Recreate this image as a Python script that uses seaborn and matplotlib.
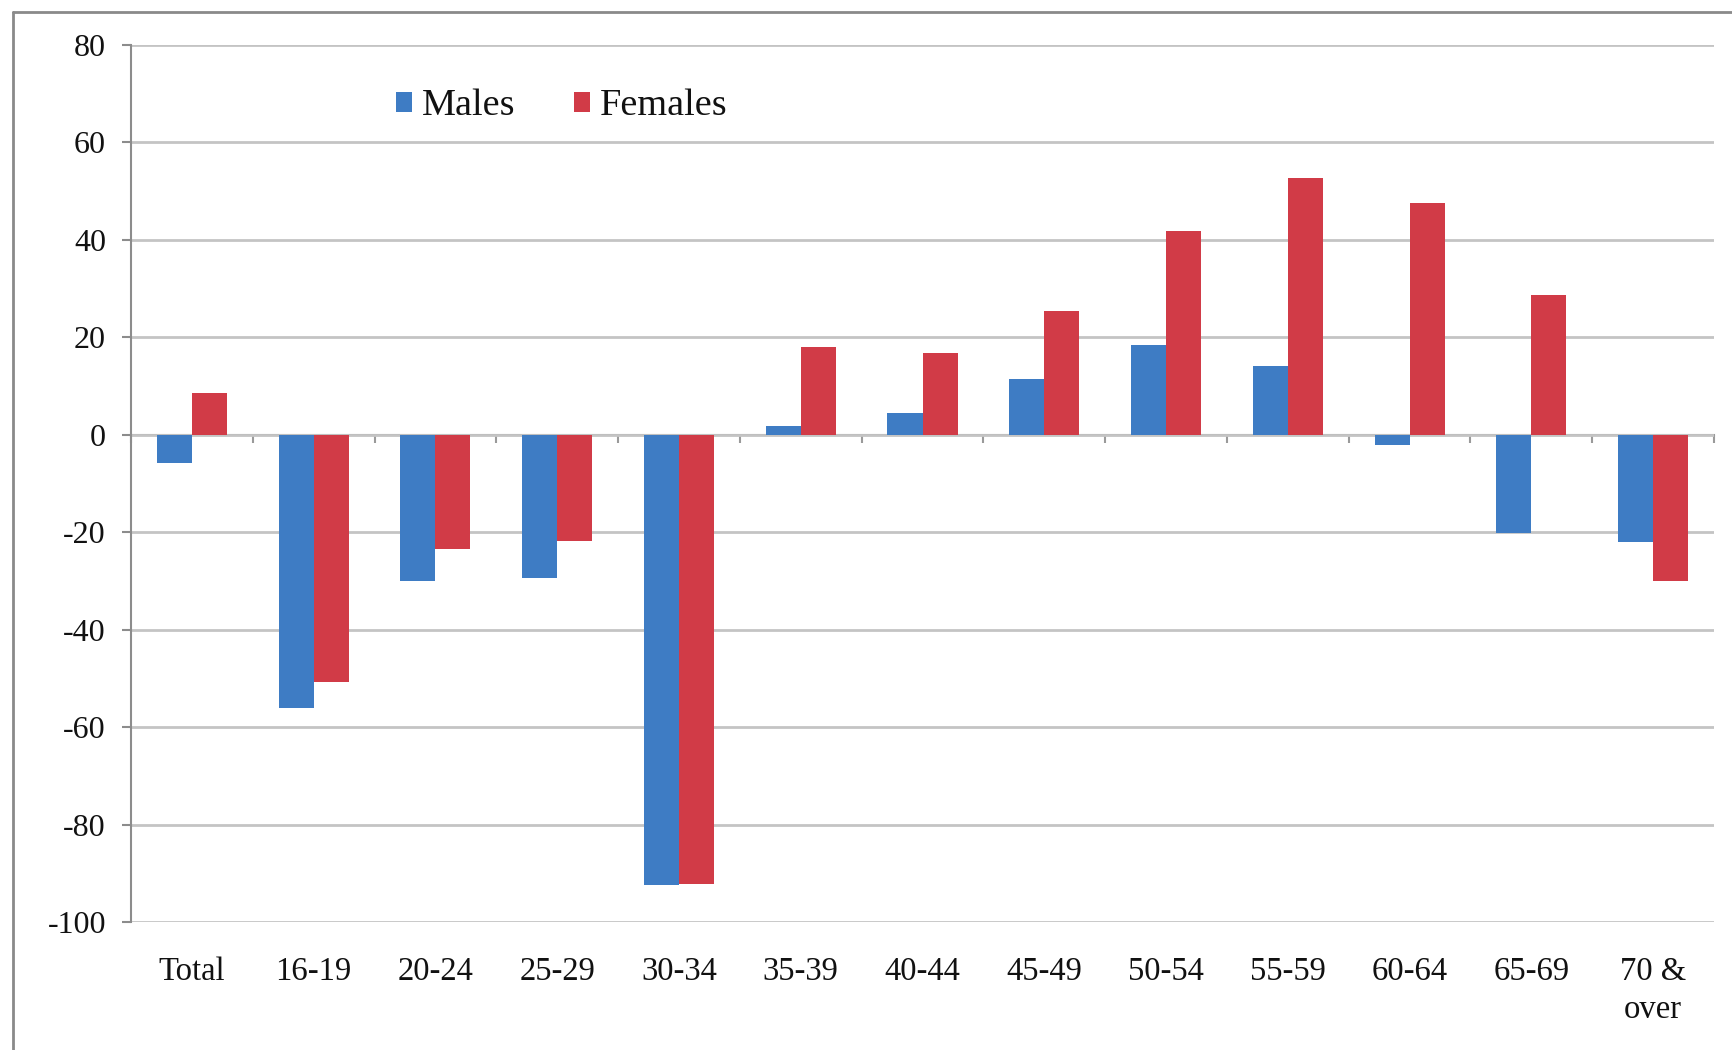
import numpy as np
import pandas as pd
import matplotlib
matplotlib.use("Agg")
import matplotlib.pyplot as plt
import seaborn as sns
from matplotlib.lines import Line2D

# ---- data ----
categories = ["Total", "16-19", "20-24", "25-29", "30-34", "35-39", "40-44",
              "45-49", "50-54", "55-59", "60-64", "65-69", "70 &\nover"]
males = [-5.7, -56.0, -30.0, -29.3, -92.4, 1.9, 4.4, 11.5, 18.5, 14.2, -2.1, -20.1, -22.1]
females = [8.6, -50.8, -23.5, -21.7, -92.2, 18.1, 16.7, 25.5, 41.8, 52.6, 47.6, 28.7, -30.0]
series = ["Males", "Females"]
colors = ["#3E7CC4", "#D13B47"]
y_ticks = [-100, -80, -60, -40, -20, 0, 20, 40, 60, 80]

# ---- style ----
sns.set_theme(style="white")
plt.rcParams["font.family"] = ["Liberation Serif", "DejaVu Serif"]
plt.rcParams["axes.unicode_minus"] = False

W, H = 1732, 1050
fig = plt.figure(figsize=(W / 100, H / 100), dpi=100, facecolor="white")
ax_left, ax_right, ax_top, ax_bottom = 131, 1714, 45, 922
ax = fig.add_axes([ax_left / W, 1 - ax_bottom / H,
                   (ax_right - ax_left) / W, (ax_bottom - ax_top) / H])

df = pd.DataFrame({
    "Age": categories * 2,
    "Value": males + females,
    "Sex": ["Males"] * len(categories) + ["Females"] * len(categories),
})

sns.barplot(data=df, x="Age", y="Value", hue="Sex", order=categories,
            hue_order=series, palette=colors, width=0.575, gap=0,
            saturation=1, errorbar=None, linewidth=0, ax=ax, legend=True,
            zorder=3)

ax.set_xlim(-0.5, len(categories) - 0.5)
ax.set_ylim(-100, 80)
ax.set_yticks(y_ticks)
ax.set_yticklabels([str(v) for v in y_ticks])
ax.set_xlabel("")
ax.set_ylabel("")

ax.yaxis.grid(True, color="#c4c4c4", lw=2.0)
ax.xaxis.grid(False)
ax.set_axisbelow(True)

for s in ["top", "right", "bottom"]:
    ax.spines[s].set_visible(False)
ax.spines["left"].set_color("#8c8c8c")
ax.spines["left"].set_linewidth(1.5)

ax.tick_params(axis="y", length=6.5, width=1.5, color="#8c8c8c", direction="out",
               pad=11.5, labelsize=23, labelcolor="#111111", left=True)
ax.tick_params(axis="x", length=0, pad=25, labelsize=23.5, labelcolor="#111111")
for lbl in ax.get_xticklabels():
    lbl.set_linespacing(1.29)

# zero-line axis with category boundary ticks
sec = ax.secondary_xaxis(0, transform=ax.transData)
sec.set_xticks(np.arange(-0.5, len(categories), 1.0))
sec.tick_params(axis="x", length=6, width=1.5, color="#9a9a9a",
                direction="out", labelbottom=False, labeltop=False)
sec.spines["bottom"].set_color("#9a9a9a")
sec.spines["bottom"].set_linewidth(1.5)
sec.spines["top"].set_visible(False)

# legend
handles, labels = ax.get_legend_handles_labels()
ax.legend(handles, labels, loc="center left",
          bbox_to_anchor=(396 / W, 1 - 106 / H), bbox_transform=fig.transFigure,
          ncol=2, frameon=False, fontsize=27.5, handlelength=0.42,
          handleheight=0.42, handletextpad=0.25, columnspacing=1.55,
          borderpad=0, borderaxespad=0, labelcolor="#111111")

# outer frame (left and top edges visible)
fx, fy = 13 / W, 1 - 12 / H
fig.add_artist(Line2D([fx, fx], [0, fy], transform=fig.transFigure,
                      color="#8a8a8a", lw=2))
fig.add_artist(Line2D([fx, 1], [fy, fy], transform=fig.transFigure,
                      color="#8a8a8a", lw=2))

fig.savefig("out.png", dpi=100, facecolor="white")
